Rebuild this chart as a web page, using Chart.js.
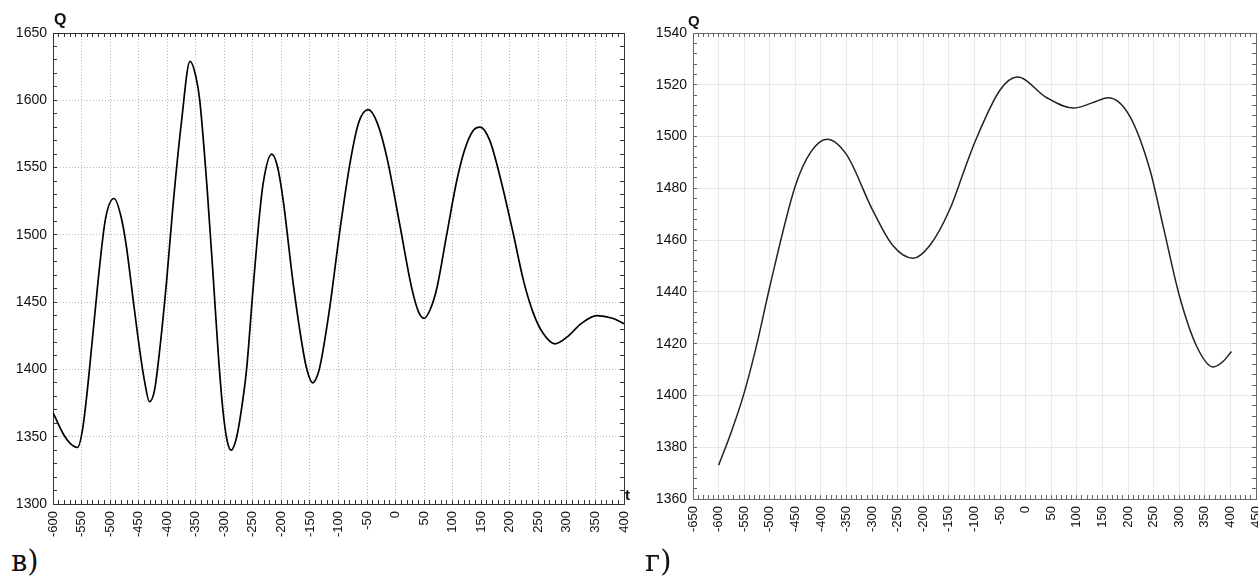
<!DOCTYPE html>
<html>
<head>
<meta charset="utf-8">
<script src="https://cdn.jsdelivr.net/npm/chart.js@4.4.1/dist/chart.umd.min.js"></script>
<style>
    body {margin: 0; background: #fff; width: 1258px; height: 577px; overflow: hidden; position: relative;}
    .box {position: absolute; top: 0; height: 540px;}
    .lbl {position: absolute; font-family: "Liberation Sans", Arial, sans-serif; font-weight: bold; color: #111;}
    .cap {position: absolute; font-family: "DejaVu Serif", serif; font-size: 29px; color: #111; line-height: 1;}
</style>
</head>
<body>
<div class="box" style="left:0;width:640px"><canvas id="chartV"></canvas></div>
<div class="box" style="left:640px;width:618px"><canvas id="chartG"></canvas></div>
<div class="lbl" style="left:54px;top:11px;font-size:16px">Q</div>
<div class="lbl" style="left:625px;top:486px;font-size:15px">t</div>
<div class="lbl" style="left:688px;top:12px;font-size:15px">Q</div>
<div class="cap" style="left:11px;top:547px">в)</div>
<div class="cap" style="left:645px;top:547px">г)</div>
<script>
// panel "в"
const tV = [-600, -582, -570, -557, -548, -538, -521, -508, -493, -480, -471, -460, -448, -440, -431,
    -422, -413, -401, -390, -375, -360, -350, -343, -330, -319, -310, -302, -295, -288,
    -280, -273, -261, -250, -241, -232, -217, -207, -197, -180, -167, -156, -145,
    -135, -128, -115, -97, -80, -65, -48, -32, -15, 8, 28, 40, 50,
    60, 72, 89, 107, 120, 135, 148, 165, 183, 206, 224, 241, 258, 279, 300, 325, 352, 380, 400];
const qV = [1368, 1352, 1345, 1342, 1356, 1392, 1466, 1512, 1527, 1512, 1490, 1453, 1414, 1392, 1376,
    1385, 1415, 1466, 1521, 1584, 1629, 1618, 1600, 1534, 1466, 1408, 1368, 1347, 1340,
    1347, 1362, 1400, 1458, 1503, 1538, 1560, 1551, 1526, 1466, 1427, 1401, 1390,
    1398, 1412, 1447, 1505, 1553, 1583, 1593, 1583, 1557, 1506, 1461, 1443, 1438,
    1444, 1460, 1499, 1540, 1562, 1577, 1580, 1570, 1543, 1501, 1466, 1442, 1427, 1419, 1424, 1434, 1440, 1438, 1434];

// panel "г"
const tG = [-600, -575, -550, -525, -500, -450, -420, -388, -350, -300, -260, -220, -187,
    -148, -120, -99, -50, -16, 41, 93, 130, 161, 203, 243, 269, 301, 334, 366, 385, 402];
const qG = [1373, 1386, 1401, 1420, 1442, 1481, 1494, 1499, 1493, 1472, 1458, 1453, 1458,
    1472, 1487, 1498, 1518, 1523, 1515, 1511, 1513, 1515, 1508, 1487, 1465, 1438, 1419, 1411, 1413, 1417];

const xRangeV = [-600, 400];
const yRangeV = [1300, 1650];
const xRangeG = [-650, 450];
const yRangeG = [1360, 1540];

const FONT = "'Liberation Sans', Arial, sans-serif";

function onStep(v, base, step) {
    return Math.abs(((v - base) % step + step) % step) < 1e-6;
}

function makeChart(id, t, q, xr, yr, cfg) {
    const xMajor = v => onStep(v, 0, 50);
    const yMajor = v => onStep(v, yr[0], cfg.yLabelStep);
    const gridColor = (major) => ctx => major(ctx.tick.value) ? cfg.gridColor : "rgba(0,0,0,0)";
    const minorAxis = (pos, r, step, axis) => ({
        type: "linear", position: pos, min: r[0], max: r[1], display: true,
        grid: {drawOnChartArea: false, tickLength: -4, tickColor: cfg.tickColor},
        border: {color: cfg.borderColor, width: 1},
        ticks: {display: false, stepSize: step, autoSkip: false},
        afterFit: s => {
            if (axis === "x") { s.height = 0; } else { s.width = 0; }
            s.paddingLeft = s.paddingRight = s.paddingTop = s.paddingBottom = 0;
        },
    });

    return new Chart(document.getElementById(id), {
        type: "line",
        data: {
            datasets: [{
                data: t.map((v, i) => ({x: v, y: q[i]})),
                borderColor: cfg.lineColor,
                borderWidth: cfg.lineWidth,
                pointRadius: 0,
                cubicInterpolationMode: "monotone",
                fill: false,
            }],
        },
        options: {
            responsive: true,
            maintainAspectRatio: false,
            animation: false,
            layout: {padding: cfg.padding},
            plugins: {
                legend: {display: false},
                tooltip: {enabled: false},
            },
            scales: {
                x: {
                    type: "linear", min: xr[0], max: xr[1],
                    grid: {color: gridColor(xMajor), tickLength: -4, tickColor: cfg.tickColor},
                    border: {color: cfg.borderColor, width: 1, dash: cfg.dash},
                    ticks: {
                        stepSize: 10, autoSkip: false, minRotation: 90, maxRotation: 90,
                        padding: 11, color: "#111", font: {family: FONT, size: 13},
                        callback: v => xMajor(v) ? String(v) : "",
                    },
                    afterFit: s => { s.height = cfg.xHeight; s.paddingLeft = 0; s.paddingRight = 0; },
                },
                y: {
                    type: "linear", min: yr[0], max: yr[1],
                    grid: {color: gridColor(yMajor), tickLength: -4, tickColor: cfg.tickColor},
                    border: {color: cfg.borderColor, width: 1, dash: cfg.dash},
                    ticks: {
                        stepSize: cfg.yMinor, autoSkip: false,
                        padding: 10, color: "#111", font: {family: FONT, size: 14},
                        callback: v => yMajor(v) ? String(v) : "",
                    },
                    afterFit: s => { s.width = 53; s.paddingTop = 0; s.paddingBottom = 0; },
                },
                xTop: minorAxis("top", xr, 10, "x"),
                yRight: minorAxis("right", yr, cfg.yMinor, "y"),
            },
        },
    });
}

makeChart("chartV", tV, qV, xRangeV, yRangeV, {
    yLabelStep: 50, yMinor: 10,
    gridColor: "rgba(0,0,0,0.28)", dash: [1, 2],
    tickColor: "#333", borderColor: "#333",
    lineColor: "#000", lineWidth: 1.7,
    xHeight: 36,
    padding: {left: 0, top: 33, right: 16, bottom: 0},
});

makeChart("chartG", tG, qG, xRangeG, yRangeG, {
    yLabelStep: 20, yMinor: 4,
    gridColor: "#e9e9e9", dash: [],
    tickColor: "#666", borderColor: "#666",
    lineColor: "#222", lineWidth: 1.5,
    xHeight: 41,
    padding: {left: 0, top: 33, right: 2, bottom: 0},
});
</script>
</body>
</html>
